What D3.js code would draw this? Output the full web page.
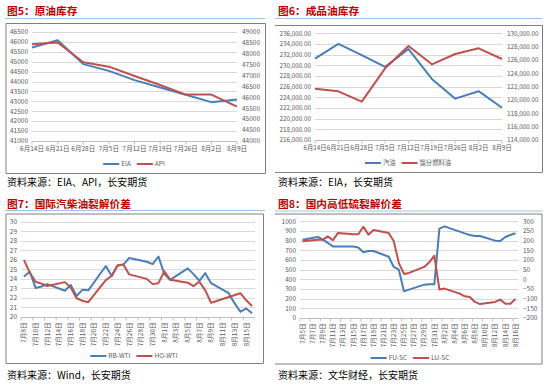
<!DOCTYPE html>
<html>
<head>
<meta charset="utf-8">
<style>
body { margin: 0; background: #fff; }
svg { display: block; font-family: "Noto Sans CJK SC", "Noto Sans", sans-serif; }
</style>
</head>
<body>
<script src="https://cdn.jsdelivr.net/npm/d3@7/dist/d3.min.js"></script>
<script>
// ---- 图5 原油库存 (weekly) ----
var crudeWeeks = ["6月14日", "6月21日", "6月28日", "7月5日", "7月12日", "7月19日", "7月26日", "8月2日", "8月9日"];
var eiaCrude = [45720, 46080, 44880, 44540, 44070, 43700, 43330, 42960, 43100];
var apiCrude = [48440, 48520, 47610, 47410, 46980, 46570, 46130, 46130, 45580];
var crudeLeftTicks = [41000, 41500, 42000, 42500, 43000, 43500, 44000, 44500, 45000, 45500, 46000, 46500];
var crudeRightTicks = [44000, 44500, 45000, 45500, 46000, 46500, 47000, 47500, 48000, 48500, 49000];

// ---- 图6 成品油库存 (weekly) ----
var productWeeks = ["6月14日", "6月21日", "6月28日", "7月5日", "7月12日", "7月19日", "7月26日", "8月2日", "8月9日"];
var gasolineStock = [231240, 234000, 231900, 229700, 233050, 227450, 223750, 225150, 222050];
var distillateStock = [121700, 121300, 119750, 124750, 128100, 125350, 126900, 127750, 126150];
var productLeftTicks = [216000, 218000, 220000, 222000, 224000, 226000, 228000, 230000, 232000, 234000, 236000];
var productRightTicks = [114000, 116000, 118000, 120000, 122000, 124000, 126000, 128000, 130000];

// ---- 图7 国际汽柴油裂解价差 (daily) ----
var crackDays = ["7/8", "7/9", "7/10", "7/11", "7/12", "7/15", "7/16", "7/17", "7/18", "7/19",
  "7/22", "7/23", "7/24", "7/25", "7/26", "7/29", "7/30", "7/31", "8/1", "8/2",
  "8/5", "8/6", "8/7", "8/8", "8/9", "8/12", "8/13", "8/14", "8/15", "8/16"];
var rbWti = [24.25, 24.75, 23.05, 23.2, 23.45, 22.75, 23.35, 22.2, 22.85, 22.8,
  25.35, 24.3, 25.4, 25.5, 26.2, 25.8, 25.55, 26.35, 24.5, 23.9,
  25.1, 24.5, 23.8, 24.6, 23.55, 22.5, 21.45, 20.55, 20.9, 20.4];
var hoWti = [26.0, 24.65, 23.7, 23.5, 23.25, 23.66, 23.1, 21.97, 21.7, 21.55,
  23.87, 24.3, 25.4, 25.5, 24.47, 24.0, 23.45, 23.55, 24.8, 23.9,
  23.6, 23.25, 23.7, 22.8, 21.5, null, null, 22.5, 21.75, 21.15];
var crackTickDays = ["7/8", "7/10", "7/12", "7/14", "7/16", "7/18", "7/20", "7/22", "7/24", "7/26",
  "7/28", "7/30", "8/1", "8/3", "8/5", "8/7", "8/9", "8/11", "8/13", "8/15"];
var crackTicks = [20, 21, 22, 23, 24, 25, 26, 27, 28, 29, 30];

// ---- 图8 国内高低硫裂解价差 (daily) ----
var sulfurDays = ["7/5", "7/8", "7/9", "7/10", "7/11", "7/12", "7/15", "7/16", "7/17", "7/18", "7/19",
  "7/22", "7/23", "7/24", "7/25", "7/26", "7/29", "7/30", "7/31", "8/1", "8/2",
  "8/5", "8/6", "8/7", "8/8", "8/9", "8/12", "8/13", "8/14", "8/15", "8/16"];
var fuSc = [810, 838, 810, 776, 740, 740, 740, 730, 680, 693, 693,
  634, 528, 500, 276, 293, 345, 350, 350, 925, 948,
  893, 875, 859, 848, 848, 800, 797, 838, 859, 876];
var luSc = [197, 205, 205, 222, 202, 240, 233, 233, 272, 231, 255,
  240, 197, 84, 28, 33, 64, 88, 122, -53, -48,
  -74, -88, -91, -117, -128, -117, -105, -126, -126, -102];
var sulfurTickDays = ["7/5", "7/7", "7/9", "7/11", "7/13", "7/15", "7/17", "7/19", "7/21", "7/23", "7/25",
  "7/27", "7/29", "7/31", "8/2", "8/4", "8/6", "8/8", "8/10", "8/12", "8/14", "8/16"];
var sulfurLeftTicks = [0, 100, 200, 300, 400, 500, 600, 700, 800, 900, 1000];
var sulfurRightTicks = [-200, -150, -100, -50, 0, 50, 100, 150, 200, 250, 300];

var BLUE = "#4a7ebb", RED = "#c0504d", GRID = "#d9d9d9", LABEL = "#595959";

var svg = d3.select("body").append("svg").attr("width", 550).attr("height", 386);

var parseDay = function(s) { return d3.timeParse("%Y/%m/%d")("2019/" + s); };
var fmtDay = d3.timeFormat("%-m月%-d日");
var halfDay = 12 * 3600 * 1000;

function dayScale(first, last, r0, r1) {
  return d3.scaleTime()
    .domain([new Date(parseDay(first) - halfDay), new Date(+parseDay(last) + halfDay)])
    .range([r0, r1]);
}

function drawPanel(c) {
  var g = svg.append("g");

  // title + blue rule
  g.append("text").attr("x", c.titleX).attr("y", c.titleY)
    .attr("font-size", 10.7).attr("font-weight", "bold").attr("fill", "#c00000")
    .text(c.title);
  g.append("line").attr("x1", c.rule[0]).attr("x2", c.rule[1]).attr("y1", c.rule[2]).attr("y2", c.rule[2])
    .attr("stroke", "#9dc3e6").attr("stroke-width", 1.2);

  // chart frame
  var b = c.box;
  var frame = "M" + b[0] + "," + b[1] + "H" + b[2] + "V" + b[3] + "H" + b[0];
  if (c.boxLeft) frame += "Z";
  g.append("path").attr("d", frame).attr("fill", "none").attr("stroke", "#808080").attr("stroke-width", 1);

  var x0 = c.plot[0], x1 = c.plot[1];

  // gridlines from left axis
  g.selectAll(null).data(c.leftTicks).enter().append("line")
    .attr("x1", x0).attr("x2", x1)
    .attr("y1", function(d) { return Math.round(c.yL(d)) + 0.5; })
    .attr("y2", function(d) { return Math.round(c.yL(d)) + 0.5; })
    .attr("stroke", GRID).attr("stroke-width", 1);

  g.selectAll(null).data(c.leftTicks).enter().append("text")
    .attr("x", x0 - 4).attr("y", function(d) { return c.yL(d); }).attr("dy", "0.35em")
    .attr("text-anchor", "end").attr("font-size", c.tickSize).attr("fill", LABEL)
    .text(c.fmtL);

  if (c.yR) {
    g.selectAll(null).data(c.rightTicks).enter().append("text")
      .attr("x", x1 + 5).attr("y", function(d) { return c.yR(d); }).attr("dy", "0.35em")
      .attr("text-anchor", "start").attr("font-size", c.tickSize).attr("fill", LABEL)
      .text(c.fmtR);
  }

  // x axis line + ticks
  var yb = Math.round(c.yL.range()[0]) + 0.5;
  g.append("line").attr("x1", x0).attr("x2", x1).attr("y1", yb).attr("y2", yb)
    .attr("stroke", "#bfbfbf");
  g.selectAll(null).data(c.xTickPos).enter().append("line")
    .attr("x1", function(d) { return d; }).attr("x2", function(d) { return d; })
    .attr("y1", yb).attr("y2", yb + 3).attr("stroke", "#bfbfbf");

  // x labels
  if (c.rotate) {
    g.selectAll(null).data(c.xLabels).enter().append("text")
      .attr("transform", function(d) { return "translate(" + d.x + "," + (yb + 5) + ") rotate(-90)"; })
      .attr("dy", "0.35em").attr("text-anchor", "end")
      .attr("font-size", c.tickSize).attr("fill", LABEL)
      .text(function(d) { return d.t; });
  } else {
    g.selectAll(null).data(c.xLabels).enter().append("text")
      .attr("x", function(d) { return d.x; }).attr("y", yb + 9.5)
      .attr("text-anchor", "middle").attr("font-size", c.tickSize).attr("fill", LABEL)
      .text(function(d) { return d.t; });
  }

  // series
  c.series.forEach(function(s) {
    var y = s.axis === "R" ? c.yR : c.yL;
    var pts = s.xs.map(function(xv, i) { return [c.x(xv), s.values[i]]; })
      .filter(function(p) { return p[1] != null; });
    g.append("path")
      .attr("d", d3.line().x(function(p) { return p[0]; }).y(function(p) { return y(p[1]); })(pts))
      .attr("fill", "none").attr("stroke", s.color).attr("stroke-width", 2)
      .attr("stroke-linejoin", "round");
  });

  // legend
  var lg = g.append("g");
  var cx = 0;
  c.series.forEach(function(s) {
    lg.append("line").attr("x1", cx).attr("x2", cx + 16).attr("y1", 0).attr("y2", 0)
      .attr("stroke", s.color).attr("stroke-width", 2);
    var t = lg.append("text").attr("x", cx + 18).attr("y", 0).attr("dy", "0.35em")
      .attr("font-size", c.tickSize).attr("fill", LABEL).text(s.name);
    cx += 18 + t.node().getComputedTextLength() + 6;
  });
  lg.attr("transform", "translate(" + (c.legendCx - (cx - 6) / 2) + "," + c.legendY + ")");

  // source
  g.append("text").attr("x", c.titleX).attr("y", c.sourceY)
    .attr("font-size", 10).attr("fill", "#000").text(c.source);
}

// 图5
var x5 = d3.scalePoint().domain(crudeWeeks).range([32, 237]);
drawPanel({
  title: "图5：原油库存", titleX: 7, titleY: 14.5, rule: [5, 265, 18.5],
  box: [6, 23.5, 265.5, 173.5], boxLeft: true, plot: [32, 237],
  x: x5,
  yL: d3.scaleLinear().domain([41000, 46500]).range([141, 32]),
  yR: d3.scaleLinear().domain([44000, 49000]).range([141, 32]),
  leftTicks: crudeLeftTicks, rightTicks: crudeRightTicks,
  fmtL: d3.format("d"), fmtR: d3.format("d"), tickSize: 6.5,
  xTickPos: crudeWeeks.map(function(d) { return x5(d); }),
  xLabels: crudeWeeks.map(function(d) { return { x: x5(d), t: d }; }),
  series: [
    { name: "EIA", xs: crudeWeeks, values: eiaCrude, axis: "L", color: BLUE },
    { name: "API", xs: crudeWeeks, values: apiCrude, axis: "R", color: RED }
  ],
  legendCx: 134, legendY: 164,
  source: "资料来源：EIA、API，长安期货", sourceY: 185.5
});

// 图6
var x6 = d3.scalePoint().domain(productWeeks).range([315, 502]);
drawPanel({
  title: "图6：成品油库存", titleX: 278, titleY: 14.5, rule: [275, 542, 18.5],
  box: [275, 25.5, 542.5, 172.5], boxLeft: false, plot: [315, 502],
  x: x6,
  yL: d3.scaleLinear().domain([216000, 236000]).range([140, 33.3]),
  yR: d3.scaleLinear().domain([114000, 130000]).range([140, 33.3]),
  leftTicks: productLeftTicks, rightTicks: productRightTicks,
  fmtL: d3.format(",.2f"), fmtR: d3.format(",.2f"), tickSize: 6.3,
  xTickPos: productWeeks.map(function(d) { return x6(d); }),
  xLabels: productWeeks.map(function(d) { return { x: x6(d), t: d }; }),
  series: [
    { name: "汽油", xs: productWeeks, values: gasolineStock, axis: "L", color: BLUE },
    { name: "馏分燃料油", xs: productWeeks, values: distillateStock, axis: "R", color: RED }
  ],
  legendCx: 408, legendY: 163,
  source: "资料来源：EIA，长安期货", sourceY: 185.5
});

// 图7
var x7 = dayScale("7/8", "8/16", 21, 255);
var crackDates = crackDays.map(parseDay);
drawPanel({
  title: "图7：国际汽柴油裂解价差", titleX: 7, titleY: 207.5, rule: [5, 265, 210.5],
  box: [6, 214, 263.5, 363.5], boxLeft: true, plot: [21, 255],
  x: x7,
  yL: d3.scaleLinear().domain([20, 30]).range([317, 221.7]),
  leftTicks: crackTicks,
  fmtL: d3.format("d"), tickSize: 6.5,
  xTickPos: crackTickDays.map(function(d) { return x7(parseDay(d)) - 2.9; }),
  xLabels: crackTickDays.map(function(d) { return { x: x7(parseDay(d)), t: fmtDay(parseDay(d)) }; }),
  rotate: true,
  series: [
    { name: "RB-WTI", xs: crackDates, values: rbWti, axis: "L", color: BLUE },
    { name: "HO-WTI", xs: crackDates, values: hoWti, axis: "L", color: RED }
  ],
  legendCx: 134, legendY: 356,
  source: "资料来源：Wind，长安期货", sourceY: 378.5
});

// 图8
var x8 = dayScale("7/5", "8/16", 300, 518);
var sulfurDates = sulfurDays.map(parseDay);
drawPanel({
  title: "图8：国内高低硫裂解价差", titleX: 278, titleY: 207.5, rule: [275, 542, 211],
  box: [275, 214, 542, 364], boxLeft: false, plot: [300, 518],
  x: x8,
  yL: d3.scaleLinear().domain([0, 1000]).range([318, 221.3]),
  yR: d3.scaleLinear().domain([-200, 300]).range([318, 221.3]),
  leftTicks: sulfurLeftTicks, rightTicks: sulfurRightTicks,
  fmtL: d3.format("d"), fmtR: d3.format("d"), tickSize: 6.5,
  xTickPos: sulfurTickDays.map(function(d) { return x8(parseDay(d)) - 2.5; }),
  xLabels: sulfurTickDays.map(function(d) { return { x: x8(parseDay(d)), t: fmtDay(parseDay(d)) }; }),
  rotate: true,
  series: [
    { name: "FU-SC", xs: sulfurDates, values: fuSc, axis: "L", color: BLUE },
    { name: "LU-SC", xs: sulfurDates, values: luSc, axis: "R", color: RED }
  ],
  legendCx: 410, legendY: 358,
  source: "资料来源：文华财经，长安期货", sourceY: 378.5
});
</script>
</body>
</html>
